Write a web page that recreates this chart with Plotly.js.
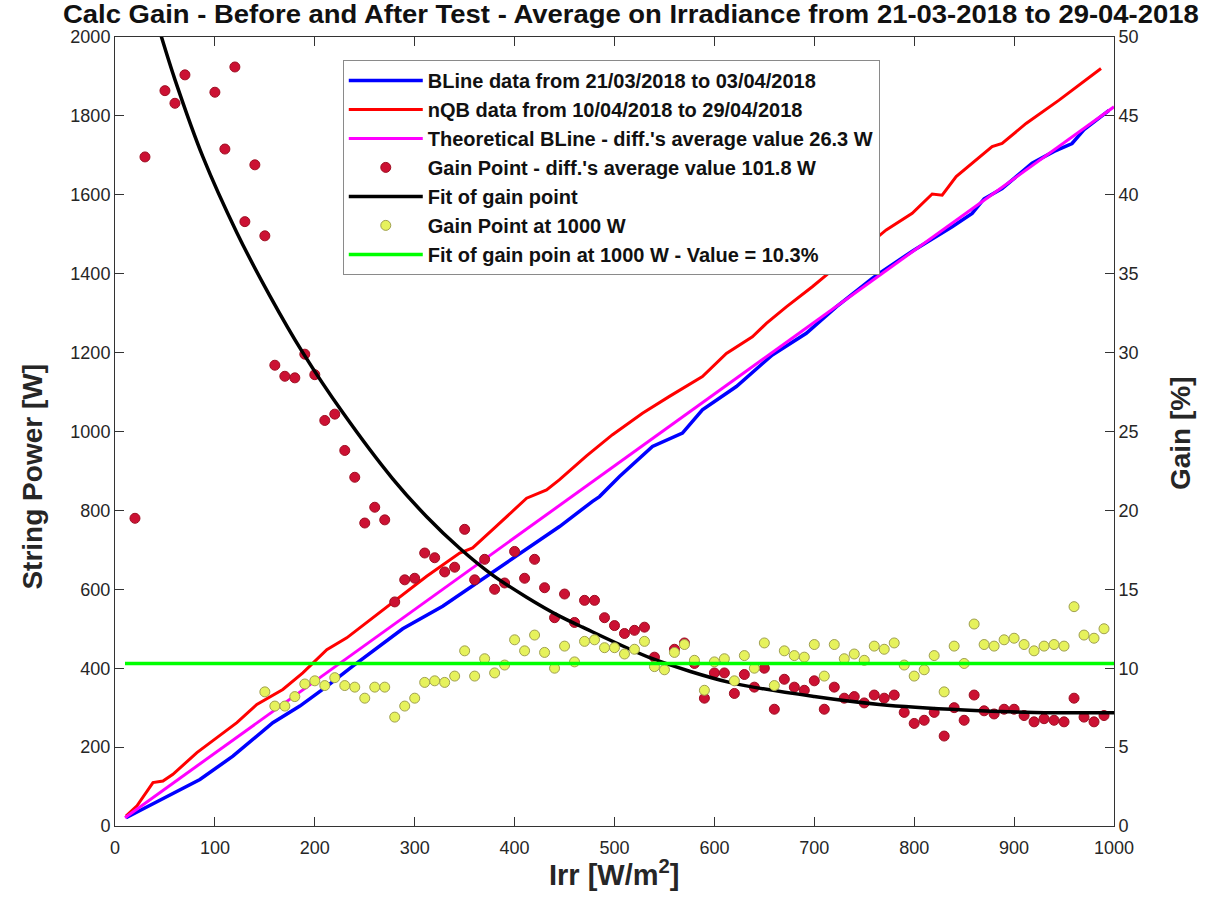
<!DOCTYPE html>
<html>
<head>
<meta charset="utf-8">
<script src="https://cdn.plot.ly/plotly-3.0.1.min.js"></script>
<style>html,body{margin:0;padding:0;background:#fff;}#chart{width:1211px;height:913px;}</style>
</head>
<body>
<div id="chart"></div>
<script>
// ---- BLine data (String Power [W] vs Irr) ----
const blineIrr   = [11, 52, 85, 118, 145, 158, 185, 212, 238, 288, 328, 372, 405, 445, 478, 485, 505, 532, 538, 568, 588, 622, 658, 692, 722, 758, 765, 785, 800, 838, 858, 870, 888, 918, 940, 958, 970, 995];
const blinePower = [21, 76, 118, 177, 236, 262, 304, 354, 405, 500, 557, 633, 692, 759, 823, 835, 886, 949, 962, 996, 1055, 1114, 1194, 1249, 1316, 1388, 1401, 1435, 1460, 1519, 1553, 1590, 1616, 1680, 1710, 1730, 1765, 1814];

// ---- nQB data ----
const nqbIrr   = [11, 22, 38, 48, 58, 82, 102, 122, 142, 168, 188, 212, 232, 245, 278, 312, 345, 358, 378, 412, 432, 445, 472, 498, 528, 555, 588, 612, 638, 652, 672, 698, 718, 728, 750, 772, 798, 818, 828, 842, 878, 888, 912, 945, 958, 987];
const nqbPower = [25, 51, 110, 114, 131, 186, 224, 262, 308, 346, 388, 447, 477, 502, 566, 633, 692, 705, 751, 831, 852, 878, 938, 992, 1046, 1089, 1139, 1198, 1240, 1274, 1316, 1367, 1409, 1426, 1465, 1511, 1553, 1602, 1599, 1646, 1722, 1730, 1781, 1840, 1865, 1920];

// ---- Theoretical BLine ----
const theoIrr   = [10, 1000];
const theoPower = [21, 1823];

// ---- Gain points [%] ----
const gainIrr = [20, 30, 50, 60, 70, 100, 110, 120, 130, 140, 150, 160, 170, 180, 190, 200, 210, 220, 230, 240, 250, 260, 270, 280, 290, 300, 310, 320, 330, 340, 350, 360, 370, 380, 390, 400, 410, 420, 430, 440, 450, 460, 470, 480, 490, 500, 510, 520, 530, 540, 560, 570, 580, 590, 600, 610, 620, 630, 640, 650, 660, 670, 680, 690, 700, 710, 720, 730, 740, 750, 760, 770, 780, 790, 800, 810, 820, 830, 840, 850, 860, 870, 880, 890, 900, 910, 920, 930, 940, 950, 960, 970, 980, 990];
const gainVal = [19.5, 42.4, 46.6, 45.8, 47.6, 46.5, 42.9, 48.1, 38.3, 41.9, 37.4, 29.2, 28.5, 28.4, 29.9, 28.6, 25.7, 26.1, 23.8, 22.1, 19.2, 20.2, 19.4, 14.2, 15.6, 15.7, 17.3, 17.0, 16.1, 16.4, 18.8, 15.6, 16.9, 15.0, 15.4, 17.4, 15.7, 16.9, 15.1, 13.2, 14.7, 12.9, 14.3, 14.3, 13.2, 12.7, 12.2, 12.4, 12.6, 10.7, 11.2, 11.6, 10.3, 8.1, 9.7, 9.7, 8.4, 9.6, 8.8, 10.0, 7.4, 9.3, 8.8, 8.6, 9.2, 7.4, 8.8, 8.1, 8.2, 7.8, 8.3, 8.1, 8.3, 7.2, 6.5, 6.7, 7.2, 5.7, 7.5, 6.7, 8.3, 7.3, 7.1, 7.4, 7.4, 7.0, 6.6, 6.8, 6.7, 6.6, 8.1, 6.9, 6.6, 7.0];

// ---- Fit of gain point ----
const fitIrr = [40, 47, 60, 88, 122, 155, 188, 228, 278, 312, 345, 378, 412, 445, 468, 538, 615, 700, 765, 850, 920, 1000];
const fitVal = [51.4, 49.9, 47.3, 42.4, 37.6, 33.6, 30.0, 26.2, 22.0, 19.6, 17.6, 15.9, 14.5, 13.3, 12.6, 10.6, 9.1, 8.2, 7.7, 7.35, 7.2, 7.18];

// ---- Gain point at 1000 W ----
const g1000Irr = [150, 160, 170, 180, 190, 200, 210, 220, 230, 240, 250, 260, 270, 280, 290, 300, 310, 320, 330, 340, 350, 360, 370, 380, 390, 400, 410, 420, 430, 440, 450, 460, 470, 480, 490, 500, 510, 520, 530, 540, 550, 560, 570, 580, 590, 600, 610, 620, 630, 640, 650, 660, 670, 680, 690, 700, 710, 720, 730, 740, 750, 760, 770, 780, 790, 800, 810, 820, 830, 840, 850, 860, 870, 880, 890, 900, 910, 920, 930, 940, 950, 960, 970, 980, 990];
const g1000Val = [8.5, 7.6, 7.6, 8.2, 9.0, 9.2, 8.9, 9.4, 8.9, 8.8, 8.1, 8.8, 8.8, 6.9, 7.6, 8.1, 9.1, 9.2, 9.1, 9.5, 11.1, 9.5, 10.6, 9.7, 10.2, 11.8, 11.1, 12.1, 11.0, 10.0, 11.4, 10.4, 11.7, 11.8, 11.3, 11.3, 10.9, 11.2, 11.7, 10.1, 9.9, 11.0, 11.5, 10.5, 8.6, 10.4, 10.6, 9.2, 10.8, 10.0, 11.6, 8.9, 11.1, 10.8, 10.7, 11.5, 9.5, 11.5, 10.6, 10.9, 10.5, 11.4, 11.2, 11.6, 10.2, 9.5, 9.9, 10.8, 8.5, 11.4, 10.3, 12.8, 11.5, 11.4, 11.8, 11.9, 11.5, 11.1, 11.4, 11.5, 11.4, 13.9, 12.1, 11.9, 12.5];

// ---- Fit at 1000 W ----
const fit1000Irr = [10, 1000];
const fit1000Val = [10.3, 10.3];

// ---- Texts ----
const titleText = 'Calc Gain - Before and After Test - Average on Irradiance from 21-03-2018 to 29-04-2018';
const xTitle = 'Irr [W/m<sup>2</sup>]';
const yTitle = 'String Power [W]';
const y2Title = 'Gain [%]';
const names = [
  'BLine data from 21/03/2018 to 03/04/2018',
  'nQB data from 10/04/2018 to 29/04/2018',
  "Theoretical BLine - diff.'s average value 26.3 W",
  "Gain Point - diff.'s average value 101.8 W",
  'Fit of gain point',
  'Gain Point at 1000 W',
  'Fit of gain poin at 1000 W - Value = 10.3%'
];

const traces = [
  {x: blineIrr, y: blinePower, name: names[0], type: 'scatter', mode: 'lines', line: {color: '#0000FF', width: 3.5}, legendgroup: 'a'},
  {x: nqbIrr, y: nqbPower, name: names[1], type: 'scatter', mode: 'lines', line: {color: '#FF0000', width: 3}, legendgroup: 'b'},
  {x: theoIrr, y: theoPower, name: names[2], type: 'scatter', mode: 'lines', line: {color: '#FF00FF', width: 3}, legendgroup: 'c'},
  {x: gainIrr, y: gainVal, name: names[3], yaxis: 'y2', type: 'scatter', mode: 'markers', marker: {color: '#CC1133', size: 10, line: {color: '#9E0E22', width: 1}}, legendgroup: 'd'},
  {x: fitIrr, y: fitVal, name: names[4], yaxis: 'y2', type: 'scatter', mode: 'lines', line: {color: '#000000', width: 3.5, shape: 'spline', smoothing: 0.8}, legendgroup: 'e'},
  {x: g1000Irr, y: g1000Val, name: names[5], yaxis: 'y2', type: 'scatter', mode: 'markers', marker: {color: '#E6F25C', size: 10, line: {color: '#A0A050', width: 1}}, legendgroup: 'f'},
  {x: fit1000Irr, y: fit1000Val, name: names[6], yaxis: 'y2', type: 'scatter', mode: 'lines', line: {color: '#00FF00', width: 3.5}, legendgroup: 'g'}
];

const axisColor = '#333333';
const tickFont = {family: 'Liberation Sans, Arial, sans-serif', size: 18, color: '#262626'};
const axTitleFont = {family: 'Liberation Sans, Arial, sans-serif', size: 28, color: '#262626', weight: 'bold'};

const layout = {
  width: 1211, height: 913,
  paper_bgcolor: '#ffffff', plot_bgcolor: '#ffffff',
  margin: {l: 115, r: 97, t: 37, b: 87, pad: 0},
  title: {
    text: '<b>' + titleText + '</b>',
    font: {family: 'Liberation Sans, Arial, sans-serif', size: 25, color: '#111111'},
    x: 0.521, xanchor: 'center', xref: 'container',
    y: 0.984, yanchor: 'middle', yref: 'container'
  },
  showlegend: true,
  legend: {
    x: 0.228, xanchor: 'left', y: 0.971, yanchor: 'top',
    bgcolor: '#ffffff', bordercolor: '#8a8a8a', borderwidth: 1,
    font: {family: 'Liberation Sans, Arial, sans-serif', size: 20, color: '#111111', weight: 'bold'},
    traceorder: 'grouped', tracegroupgap: 0, itemwidth: 74
  },
  xaxis: {
    range: [0, 1000], dtick: 100, tick0: 0,
    ticks: 'inside', ticklen: 9, tickwidth: 1, tickcolor: axisColor,
    showline: true, linecolor: axisColor, linewidth: 1, mirror: 'ticks',
    showgrid: false, zeroline: false, ticklabelstandoff: 5,
    tickfont: tickFont
  },
  yaxis: {
    range: [0, 2000], dtick: 200, tick0: 0,
    ticks: 'inside', ticklen: 9, tickwidth: 1, tickcolor: axisColor,
    showline: true, linecolor: axisColor, linewidth: 1,
    showgrid: false, zeroline: false,
    tickfont: tickFont
  },
  yaxis2: {
    overlaying: 'y', side: 'right',
    range: [0, 50], dtick: 5, tick0: 0,
    ticks: 'inside', ticklen: 9, tickwidth: 1, tickcolor: axisColor,
    showline: true, linecolor: axisColor, linewidth: 1,
    showgrid: false, zeroline: false,
    tickfont: tickFont
  },
  annotations: [
    {text: '<b>' + xTitle + '</b>', xref: 'paper', yref: 'paper', x: 0.5, y: -0.06, xanchor: 'center', yanchor: 'middle', showarrow: false, font: {family: 'Liberation Sans, Arial, sans-serif', size: 29, color: '#262626'}},
    {text: '<b>' + yTitle + '</b>', xref: 'paper', yref: 'paper', x: -0.083, y: 0.443, xanchor: 'center', yanchor: 'middle', textangle: -90, showarrow: false, font: axTitleFont},
    {text: '<b>' + y2Title + '</b>', xref: 'paper', yref: 'paper', x: 1.066, y: 0.498, xanchor: 'center', yanchor: 'middle', textangle: -90, showarrow: false, font: axTitleFont}
  ]
};

Plotly.newPlot('chart', traces, layout, {displayModeBar: false, staticPlot: true}).then(function () {
  // condense the title horizontally to the reference's width
  const t = document.querySelector('.gtitle');
  if (t) {
    const bb = t.getBBox();
    const target = 1136;
    const s = target / bb.width;
    const cx = bb.x + bb.width / 2;
    t.setAttribute('transform', 'translate(' + (cx * (1 - s)) + ',0) scale(' + s + ',1)');
  }
});
</script>
</body>
</html>
